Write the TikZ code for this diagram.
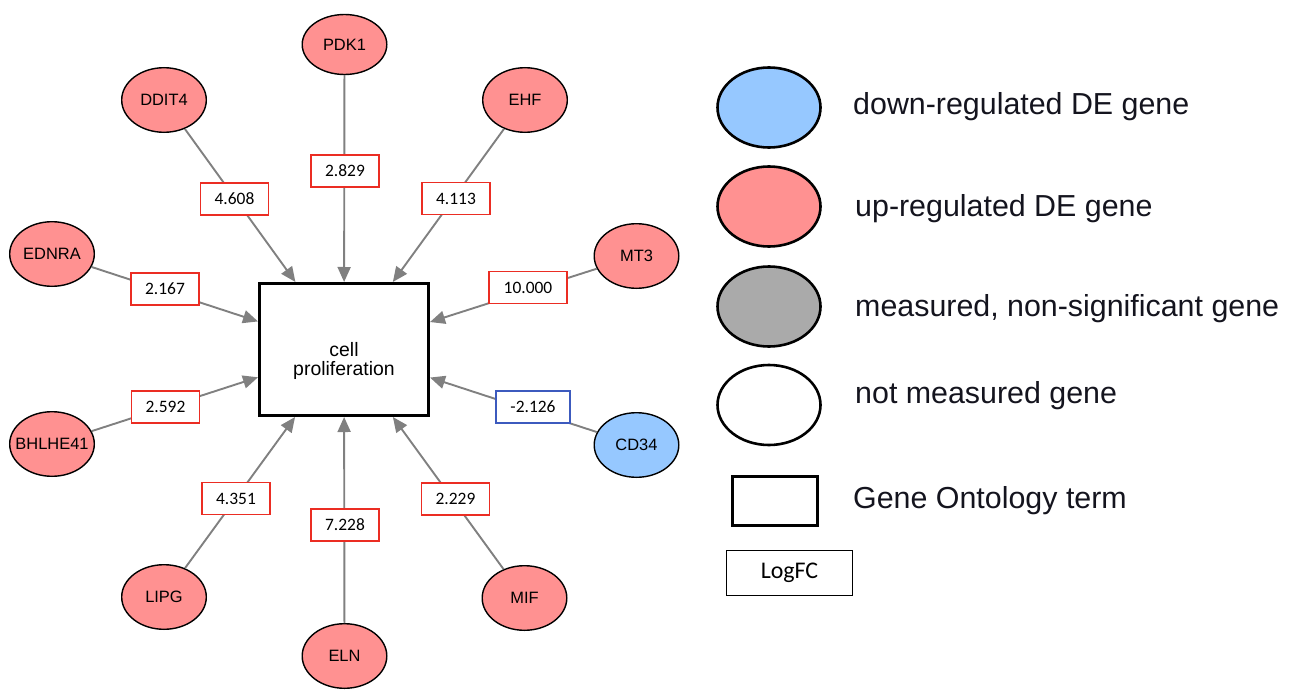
\documentclass[tikz,border=0pt]{standalone}
\usepackage{fontspec}
\setmainfont{Liberation Sans}
\newfontfamily\calib{Carlito}
\usetikzlibrary{shapes.geometric,arrows.meta}
\definecolor{upred}{RGB}{255,145,145}
\definecolor{downblue}{RGB}{150,200,255}
\definecolor{nsgray}{RGB}{170,170,170}
\definecolor{edgegray}{RGB}{128,128,128}
\definecolor{lblred}{RGB}{235,45,35}
\definecolor{lblblue}{RGB}{60,90,190}
\definecolor{legtxt}{RGB}{20,20,30}
\newcommand\gtxt[1]{\makebox[0pt]{#1}}
\tikzset{
 gene/.style={ellipse, draw=black, line width=1.4bp, fill=upred, minimum width=84.6bp, minimum height=64.6bp, inner sep=0pt, font=\fontsize{16.5}{18}\selectfont},
 downgene/.style={gene, fill=downblue},
 lbl/.style={rectangle, draw=lblred, line width=1.9bp, fill=white, minimum width=68bp, minimum height=32bp, inner sep=0pt, font=\calib\fontsize{17.5}{19}\selectfont},
 edge/.style={draw=edgegray, line width=1.9bp, -{Triangle[length=15bp,width=13bp]}},
 goterm/.style={rectangle, draw=black, line width=3.3bp, fill=white, minimum width=168.7bp, minimum height=131.7bp, inner sep=0pt},
 legell/.style={ellipse, draw=black, line width=2.6bp, minimum width=103bp, minimum height=80bp, inner sep=0pt},
 legtext/.style={anchor=base west, inner sep=0pt, text=legtxt, font=\fontsize{30.5}{32}\selectfont},
}
\begin{document}
\begin{tikzpicture}[x=1bp,y=-1bp]
\useasboundingbox (0,0) rectangle (1304,692);
% genes
\node[gene] (DDIT4) at (164,100) {\gtxt{DDIT4}};
\node[gene, minimum height=60bp] (PDK1) at (344.5,44.5) {\gtxt{PDK1}};
\node[gene] (EHF) at (525,100) {\gtxt{EHF}};
\node[gene] (EDNRA) at (52,254) {\gtxt{EDNRA}};
\node[gene] (MT3) at (636.5,256) {\gtxt{MT3}};
\node[gene] (BHLHE41) at (52,444) {\gtxt{BHLHE41}};
\node[downgene] (CD34) at (636.5,445) {\gtxt{CD34}};
\node[gene] (LIPG) at (164,597) {\gtxt{LIPG}};
\node[gene] (ELN) at (344.5,656) {\gtxt{ELN}};
\node[gene] (MIF) at (524.5,598) {\gtxt{MIF}};
% GO term
\node[goterm] (box) at (344,349.5) {};
\node[align=center, inner sep=0pt, font=\fontsize{19.5}{20}\selectfont] (boxtext) at (344,361) {cell\\proliferation};
% edges
\foreach \g in {DDIT4,PDK1,EHF,EDNRA,MT3,BHLHE41,CD34,LIPG,ELN,MIF}
  \draw[edge] (\g) -- (box);
% logFC labels
\node[lbl] (l1) at (234.5,199) {4.608};
\node[lbl] (l2) at (345,171) {2.829};
\node[lbl] (l3) at (456,198.5) {4.113};
\node[lbl] (l4) at (165,289) {2.167};
\node[lbl, minimum width=78bp] (l5) at (528,287.5) {10.000};
\node[lbl] (l6) at (165.5,407) {2.592};
\node[lbl, draw=lblblue, minimum width=74bp] (l7) at (533,407) {-2.126};
\node[lbl] (l8) at (236,498.5) {4.351};
\node[lbl] (l9) at (345,525) {7.228};
\node[lbl] (l10) at (455.5,499) {2.229};
% legend
\node[legell, fill=downblue] (legdown) at (769,107.5) {};
\node[legell, fill=upred] (legup) at (769,206.5) {};
\node[legell, fill=nsgray] (legns) at (769,306.5) {};
\node[legell, fill=white] (legnm) at (769,405) {};
\node[draw=black, line width=3bp, minimum width=85bp, minimum height=49bp, inner sep=0pt] (leggo) at (775,501) {};
\node[draw=black, line width=1bp, minimum width=126bp, minimum height=45bp, inner sep=0pt, font=\calib\fontsize{24}{26}\selectfont] (leglfc) at (789.5,573) {LogFC};
\node[legtext] (tdown) at (853,115) {down-regulated DE gene};
\node[legtext] (tup) at (855,216.5) {up-regulated DE gene};
\node[legtext] (tns) at (855,316.5) {measured, non-significant gene};
\node[legtext] (tnm) at (855,403) {not measured gene};
\node[legtext] (tgo) at (853,508) {Gene Ontology term};
\end{tikzpicture}
\end{document}
